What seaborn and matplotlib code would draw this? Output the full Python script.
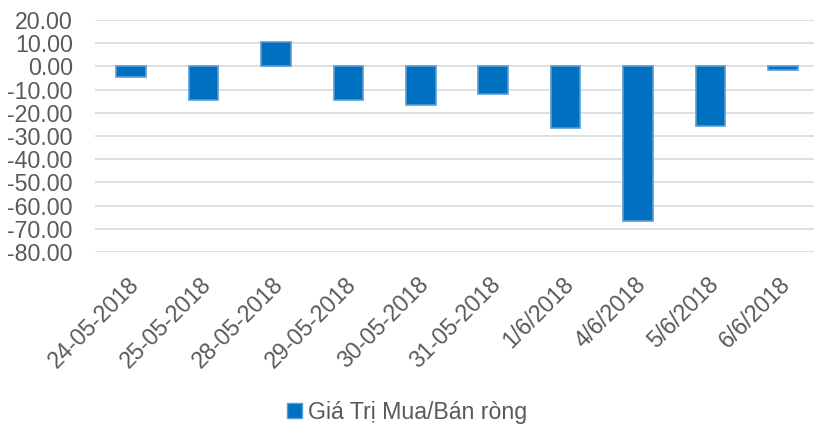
import matplotlib
matplotlib.use("Agg")
import matplotlib.pyplot as plt
import matplotlib.transforms as mtransforms
import seaborn as sns
import pandas as pd
from matplotlib.patches import Patch

dates = ["24-05-2018", "25-05-2018", "28-05-2018", "29-05-2018", "30-05-2018",
         "31-05-2018", "1/6/2018", "4/6/2018", "5/6/2018", "6/6/2018"]
values = [-4.7, -14.5, 10.6, -14.5, -16.5, -11.8, -26.7, -66.8, -25.7, -1.7]
series_name = "Giá Trị Mua/Bán ròng"
yticks = [20, 10, 0, -10, -20, -30, -40, -50, -60, -70, -80]

df = pd.DataFrame({"date": dates, "value": values})

sns.set_theme(style="white")
plt.rcParams['font.family'] = ['Liberation Sans', 'DejaVu Sans']

FS = 16.7
fig = plt.figure(figsize=(8.14, 4.26), dpi=100)
ax = fig.add_axes([95/814, 1 - 252/426, 1 - 95/814, (252 - 20)/426])

sns.barplot(data=df, x="date", y="value", color="#0070C0", width=0.41,
            edgecolor="#5B9BD5", linewidth=1.2, saturation=1, ax=ax, zorder=3)

ax.set_ylim(-80, 20)
ax.set_xlim(-0.5, 9.43)
ax.set_yticks(yticks)
ax.set_yticklabels([f"{v:.2f}" for v in yticks], fontsize=FS, color="#595959")
ax.yaxis.grid(True, color="#D9D9D9", linewidth=1.2, zorder=0)
ax.set_axisbelow(True)
for s in ax.spines.values():
    s.set_visible(False)
ax.tick_params(axis="y", length=0, pad=16)
ax.tick_params(axis="x", length=0, pad=15)
ax.set_xlabel("")
ax.set_ylabel("")
ax.set_xticks(range(len(dates)))
ax.set_xticklabels(dates, rotation=45, ha="right", rotation_mode="anchor",
                   fontsize=FS, color="#595959")
offset = mtransforms.ScaledTranslation(-4/100, 0, fig.dpi_scale_trans)
for lbl in ax.get_xticklabels():
    lbl.set_transform(lbl.get_transform() + offset)

handle = Patch(facecolor="#0070C0", edgecolor="#5B9BD5", label=series_name)
fig.legend(handles=[handle], loc="center", bbox_to_anchor=(0.5, 1 - 412/426),
           frameon=False, fontsize=FS, handlelength=0.65, handleheight=0.65,
           handletextpad=0.25, labelcolor="#595959")

fig.savefig("out.png", dpi=100)
